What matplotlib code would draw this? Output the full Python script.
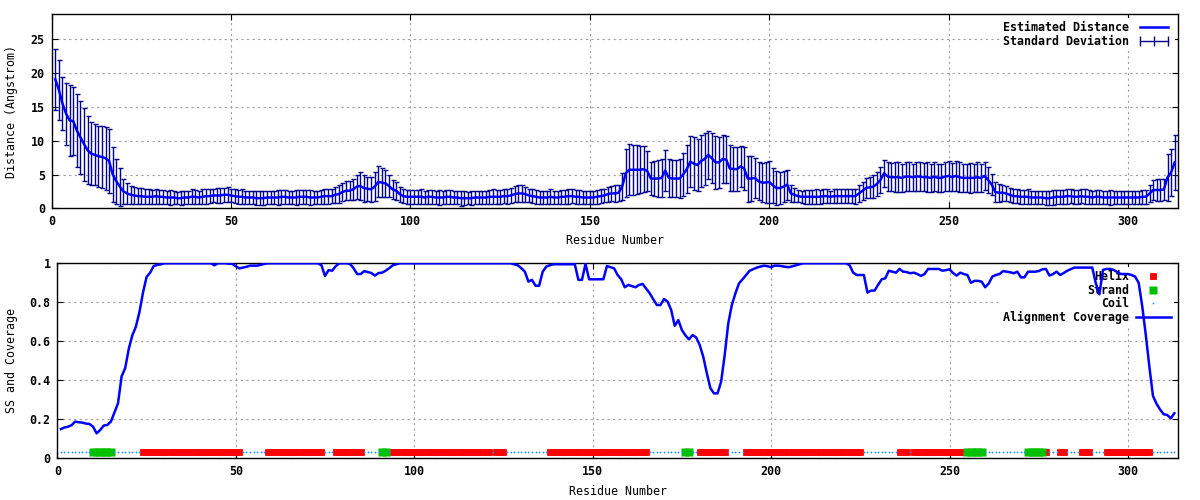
import numpy as np
import matplotlib.pyplot as plt
from matplotlib.lines import Line2D
from matplotlib.ticker import FormatStrFormatter

plt.rcParams['font.family'] = 'DejaVu Sans Mono'
plt.rcParams['font.weight'] = 'bold'
plt.rcParams['font.size'] = 8.4

# estimated distance per residue (Angstrom)
distance = [
    19.1, 17.5, 15.5, 14.0, 13.0, 12.9, 11.5, 10.5, 9.5, 8.6,
    8.1, 7.9, 7.7, 7.6, 7.4, 7.0, 5.0, 4.0, 3.2, 2.5,
    2.2, 2.0, 1.9, 1.8, 1.8, 1.7, 1.7, 1.7, 1.8, 1.7,
    1.7, 1.6, 1.6, 1.6, 1.5, 1.5, 1.6, 1.6, 1.7, 1.7,
    1.6, 1.7, 1.8, 1.8, 1.9, 1.9, 1.9, 2.0, 2.0, 1.9,
    1.8, 1.7, 1.7, 1.6, 1.6, 1.6, 1.5, 1.5, 1.5, 1.6,
    1.6, 1.6, 1.6, 1.7, 1.7, 1.6, 1.6, 1.6, 1.7, 1.7,
    1.7, 1.6, 1.6, 1.6, 1.7, 1.8, 1.8, 1.8, 2.0, 2.1,
    2.4, 2.6, 2.6, 2.8, 3.2, 3.3, 3.0, 2.9, 2.8, 3.2,
    3.9, 3.8, 3.7, 3.3, 2.8, 2.6, 2.1, 1.8, 1.7, 1.7,
    1.7, 1.7, 1.7, 1.6, 1.7, 1.7, 1.6, 1.6, 1.6, 1.7,
    1.7, 1.6, 1.6, 1.5, 1.5, 1.5, 1.5, 1.6, 1.6, 1.6,
    1.6, 1.7, 1.7, 1.7, 1.7, 1.8, 1.8, 1.9, 2.1, 2.2,
    2.2, 2.1, 1.9, 1.8, 1.7, 1.6, 1.6, 1.6, 1.7, 1.6,
    1.6, 1.7, 1.7, 1.8, 1.8, 1.7, 1.7, 1.6, 1.6, 1.6,
    1.6, 1.7, 1.8, 1.9, 2.1, 2.2, 2.2, 2.3, 3.2, 5.2,
    5.7, 5.7, 5.7, 5.7, 5.8, 5.5, 4.4, 4.4, 4.4, 4.5,
    5.6, 4.5, 4.4, 4.4, 4.4, 5.0, 5.8, 6.9, 6.6, 6.4,
    7.0, 7.3, 7.9, 7.4, 6.8, 6.8, 7.3, 7.2, 5.9, 5.8,
    5.8, 6.2, 5.9, 4.4, 4.4, 4.5, 4.0, 3.8, 3.8, 3.9,
    3.4, 3.0, 3.0, 3.2, 3.5, 2.2, 2.0, 1.8, 1.7, 1.7,
    1.7, 1.7, 1.7, 1.7, 1.8, 1.8, 1.7, 1.8, 1.8, 1.8,
    1.8, 1.8, 1.8, 1.8, 2.2, 2.6, 3.0, 3.1, 3.2, 3.6,
    4.2, 5.2, 4.7, 4.6, 4.6, 4.6, 4.5, 4.7, 4.7, 4.6,
    4.7, 4.7, 4.6, 4.6, 4.5, 4.7, 4.5, 4.5, 4.7, 4.8,
    4.6, 4.8, 4.6, 4.5, 4.5, 4.5, 4.5, 4.6, 4.5, 4.8,
    4.2, 3.5, 2.4, 2.3, 2.3, 2.2, 2.0, 1.8, 1.8, 1.7,
    1.7, 1.7, 1.6, 1.6, 1.6, 1.6, 1.5, 1.5, 1.6, 1.7,
    1.7, 1.7, 1.8, 1.8, 1.7, 1.7, 1.8, 1.7, 1.7, 1.6,
    1.7, 1.7, 1.6, 1.6, 1.6, 1.6, 1.6, 1.6, 1.6, 1.6,
    1.6, 1.6, 1.6, 1.7, 1.7, 2.2, 2.7, 2.7, 2.7, 2.8,
    4.6, 5.3, 6.8,
]

# standard deviation per residue
std_dev = [
    4.5, 4.4, 3.9, 4.6, 5.2, 5.0, 5.4, 5.4, 5.4, 5.0,
    4.6, 4.5, 4.5, 4.6, 4.7, 4.8, 4.0, 3.3, 2.8, 1.8,
    1.5, 1.3, 1.3, 1.2, 1.2, 1.1, 1.1, 1.0, 1.1, 1.0,
    1.0, 1.0, 1.1, 1.0, 0.9, 1.0, 1.0, 1.0, 1.1, 1.0,
    1.0, 1.1, 1.1, 1.0, 1.0, 1.1, 1.1, 1.0, 1.1, 1.0,
    1.0, 1.0, 1.1, 1.0, 0.9, 1.0, 1.0, 1.0, 1.0, 1.0,
    1.0, 1.0, 1.1, 1.0, 1.0, 1.0, 1.0, 1.1, 1.0, 1.0,
    1.0, 1.1, 1.0, 1.0, 1.0, 1.1, 1.1, 1.0, 1.2, 1.3,
    1.3, 1.4, 1.4, 1.5, 1.8, 2.0, 2.0, 1.8, 1.8, 2.1,
    2.3, 2.2, 2.0, 1.7, 1.4, 1.3, 1.1, 1.0, 1.0, 1.0,
    1.0, 1.0, 1.1, 1.0, 1.0, 1.0, 1.0, 1.1, 1.0, 1.0,
    1.0, 1.0, 1.0, 1.1, 1.0, 0.9, 1.0, 1.0, 1.0, 1.0,
    1.0, 1.0, 1.1, 1.0, 1.0, 1.0, 1.1, 1.1, 1.2, 1.2,
    1.2, 1.1, 1.0, 1.0, 1.0, 1.0, 1.0, 1.0, 1.1, 1.0,
    1.0, 1.0, 1.0, 1.1, 1.0, 1.0, 1.0, 1.0, 1.0, 1.0,
    1.0, 1.0, 1.0, 1.0, 1.1, 1.1, 1.2, 1.2, 2.0, 3.5,
    3.8, 3.7, 3.6, 3.5, 3.4, 3.0, 2.4, 2.6, 2.7, 2.8,
    3.0, 2.8, 2.7, 2.8, 2.9, 3.2, 3.6, 3.8, 3.9, 3.8,
    3.9, 3.8, 3.5, 3.7, 3.9, 3.8, 3.6, 3.5, 3.4, 3.3,
    3.3, 3.0, 3.2, 3.4, 3.3, 3.0, 2.8, 2.9, 3.0, 3.1,
    2.6, 2.5, 2.4, 2.3, 2.2, 1.2, 1.0, 0.9, 0.9, 1.0,
    1.0, 1.0, 1.1, 1.0, 1.0, 1.0, 0.9, 1.0, 1.0, 1.0,
    1.0, 1.0, 1.0, 1.1, 1.2, 1.3, 1.5, 1.6, 1.7, 1.8,
    1.9, 2.0, 2.1, 2.1, 2.2, 2.2, 2.1, 2.1, 2.2, 2.0,
    2.1, 2.2, 2.1, 2.2, 2.1, 2.2, 2.1, 2.1, 2.2, 2.2,
    2.1, 2.2, 2.2, 2.1, 2.1, 2.2, 2.1, 2.2, 2.1, 2.1,
    1.9, 1.6, 1.5, 1.3, 1.2, 1.1, 1.0, 1.0, 1.0, 1.0,
    1.0, 1.1, 1.0, 1.0, 1.0, 0.9, 1.0, 1.0, 1.1, 1.0,
    1.0, 1.0, 1.1, 1.0, 1.0, 1.0, 1.0, 1.1, 1.0, 1.0,
    1.0, 1.0, 1.0, 1.0, 1.1, 1.0, 1.0, 1.0, 1.0, 1.0,
    1.0, 1.0, 1.0, 1.0, 1.0, 1.2, 1.5, 1.6, 1.6, 1.6,
    3.5, 3.5, 4.1,
]

# alignment coverage per residue
coverage = [
    0.150, 0.158, 0.162, 0.170, 0.188, 0.185, 0.183, 0.178, 0.176, 0.162,
    0.128, 0.145, 0.168, 0.171, 0.188, 0.235, 0.282, 0.420, 0.462, 0.560,
    0.630, 0.675, 0.750, 0.850, 0.930, 0.952, 0.986, 0.992, 0.995, 1.000,
    1.000, 1.000, 1.000, 1.000, 1.000, 1.000, 1.000, 1.000, 1.000, 1.000,
    1.000, 1.000, 1.000, 0.990, 1.000, 1.000, 1.000, 0.998, 0.997, 0.985,
    0.974, 0.978, 0.982, 0.988, 0.988, 0.988, 0.992, 0.997, 1.000, 1.000,
    1.000, 1.000, 1.000, 1.000, 1.000, 1.000, 1.000, 1.000, 1.000, 1.000,
    1.000, 1.000, 1.000, 0.990, 0.935, 0.965, 0.962, 0.985, 1.000, 1.000,
    1.000, 0.997, 0.975, 0.945, 0.945, 0.960, 0.955, 0.950, 0.937, 0.950,
    0.952, 0.962, 0.975, 0.990, 0.995, 1.000, 1.000, 1.000, 1.000, 1.000,
    1.000, 1.000, 1.000, 1.000, 1.000, 1.000, 1.000, 1.000, 1.000, 1.000,
    1.000, 1.000, 1.000, 1.000, 1.000, 1.000, 1.000, 1.000, 1.000, 1.000,
    1.000, 1.000, 1.000, 1.000, 1.000, 1.000, 1.000, 0.995, 0.990, 0.975,
    0.957, 0.906, 0.915, 0.885, 0.885, 0.957, 0.983, 0.990, 0.995, 0.995,
    0.995, 0.995, 0.995, 0.995, 0.995, 0.915, 0.915, 0.997, 0.918, 0.918,
    0.918, 0.918, 0.918, 0.986, 0.980, 0.974, 0.940, 0.918, 0.877, 0.889,
    0.883, 0.877, 0.889, 0.894, 0.870, 0.846, 0.815, 0.786, 0.786, 0.817,
    0.803, 0.761, 0.679, 0.709, 0.658, 0.630, 0.610, 0.632, 0.620, 0.581,
    0.520, 0.436, 0.359, 0.333, 0.333, 0.393, 0.530, 0.692, 0.786, 0.846,
    0.897, 0.918, 0.940, 0.962, 0.970, 0.978, 0.983, 0.988, 0.985, 0.980,
    0.988, 0.988, 0.985, 0.982, 0.980, 0.985, 0.990, 0.995, 1.000, 1.000,
    1.000, 1.000, 1.000, 1.000, 1.000, 1.000, 1.000, 1.000, 1.000, 1.000,
    1.000, 0.990, 0.952, 0.940, 0.940, 0.940, 0.850, 0.860, 0.860, 0.890,
    0.918, 0.923, 0.962, 0.957, 0.952, 0.971, 0.957, 0.955, 0.949, 0.952,
    0.945, 0.935, 0.945, 0.971, 0.971, 0.971, 0.971, 0.962, 0.965, 0.969,
    0.950, 0.937, 0.952, 0.945, 0.940, 0.900, 0.910, 0.910, 0.906, 0.877,
    0.897, 0.932, 0.940, 0.945, 0.960, 0.957, 0.954, 0.949, 0.957, 0.928,
    0.928, 0.957, 0.957, 0.957, 0.960, 0.969, 0.971, 0.937, 0.945, 0.957,
    0.940, 0.950, 0.962, 0.970, 0.978, 0.978, 0.978, 0.978, 0.978, 0.978,
    0.897, 0.841, 0.966, 0.971, 0.971, 0.966, 0.955, 0.945, 0.945, 0.945,
    0.940, 0.932, 0.900, 0.780, 0.632, 0.470, 0.320, 0.280, 0.250, 0.226,
    0.222, 0.205, 0.231,
]

# secondary structure segments (first, last residue); everything else is coil
helix_segments = [(24, 51), (59, 74), (78, 85), (94, 121), (123, 125),
                  (138, 165), (180, 187), (193, 225), (236, 238), (240, 254),
                  (277, 277), (281, 282), (287, 289), (294, 306)]
strand_segments = [(10, 15), (91, 92), (176, 177), (255, 259), (272, 276)]

n_res = len(distance)
residues = np.arange(1, n_res + 1)

ss = np.full(n_res, 'C')
for a, b in helix_segments:
    ss[a - 1:b] = 'H'
for a, b in strand_segments:
    ss[a - 1:b] = 'E'
ss_level = 0.03

line_blue = '#0000ff'
bar_blue = '#00008b'
grid_kw = dict(color='#a0a0a0', linestyle=(0, (2, 3)), linewidth=0.8)

fig = plt.figure(figsize=(12, 5), dpi=100)
ax1 = fig.add_axes([0.0431, 0.5834, 0.9388, 0.388])
ax2 = fig.add_axes([0.0478, 0.0834, 0.9338, 0.39])

# ---- top: estimated distance with error bars ----
ax1.errorbar(residues, distance, yerr=std_dev, fmt='none', ecolor=bar_blue,
             elinewidth=1.0, capsize=1.8, capthick=1.0, zorder=2)
ax1.plot(residues, distance, color=line_blue, lw=1.8, zorder=3)
ax1.set_xlim(0, 314)
ax1.set_ylim(0, 28.7)
ax1.set_yticks([0, 5, 10, 15, 20, 25])
ax1.set_xticks(np.arange(0, 301, 50))
ax1.set_xlabel('Residue Number')
ax1.set_ylabel('Distance (Angstrom)')

h_dist = Line2D([], [], color=line_blue, lw=1.8)
h_sd = Line2D([], [], color=bar_blue, lw=1.0, marker='|', markersize=7, markeredgewidth=1.0)
leg1 = ax1.legend([h_dist, h_sd], ['Estimated Distance', 'Standard Deviation'],
                  loc='upper right', markerfirst=False, numpoints=3, handlelength=3.0,
                  handletextpad=0.6, labelspacing=0.05, borderpad=0.3, borderaxespad=0.3,
                  fancybox=False, framealpha=1, facecolor='white', edgecolor='none')
leg1.set_zorder(1.5)

# ---- bottom: secondary structure and coverage ----
is_h = ss == 'H'
is_e = ss == 'E'
is_c = ss == 'C'
ax2.plot(residues[is_h], np.full(is_h.sum(), ss_level), ls='none', marker='s', ms=5,
         color='#ff0000', mec='#ff0000', mew=0.6, label='Helix', zorder=3)
ax2.plot(residues[is_e], np.full(is_e.sum(), ss_level), ls='none', marker='s', ms=5.2,
         color='#00c000', mec='none', label='Strand', zorder=3)
ax2.plot(residues[is_c], np.full(is_c.sum(), ss_level), ls='none', marker='.', ms=2.6,
         color='#1e90ff', mec='none', label='Coil', zorder=3)
ax2.plot(residues, coverage, color=line_blue, lw=1.8, label='Alignment Coverage', zorder=3)
ax2.set_xlim(0, 314)
ax2.set_ylim(0, 1)
ax2.set_yticks([0, 0.2, 0.4, 0.6, 0.8, 1.0])
ax2.yaxis.set_major_formatter(FormatStrFormatter('%g'))
ax2.set_xticks(np.arange(0, 301, 50))
ax2.set_xlabel('Residue Number')
ax2.set_ylabel('SS and Coverage')

leg2 = ax2.legend(loc='upper right', markerfirst=False, numpoints=1, handlelength=3.0,
                  handletextpad=0.6, labelspacing=0.05, borderpad=0.3, borderaxespad=0.3,
                  fancybox=False, framealpha=1, facecolor='white', edgecolor='none')
leg2.set_zorder(1.5)

for ax in (ax1, ax2):
    ax.grid(True, **grid_kw)
    ax.set_axisbelow(True)
    ax.tick_params(direction='in', length=4.3, width=0.8, top=True, right=True,
                   labelsize=8.4, pad=5)
    for s in ax.spines.values():
        s.set_linewidth(1.0)

ax1.xaxis.set_label_coords(0.5, -0.135)
ax2.xaxis.set_label_coords(0.5, -0.135)
ax1.yaxis.set_label_coords(-0.030, 0.5)
ax2.yaxis.set_label_coords(-0.035, 0.5)

fig.savefig('out.png', dpi=100)
